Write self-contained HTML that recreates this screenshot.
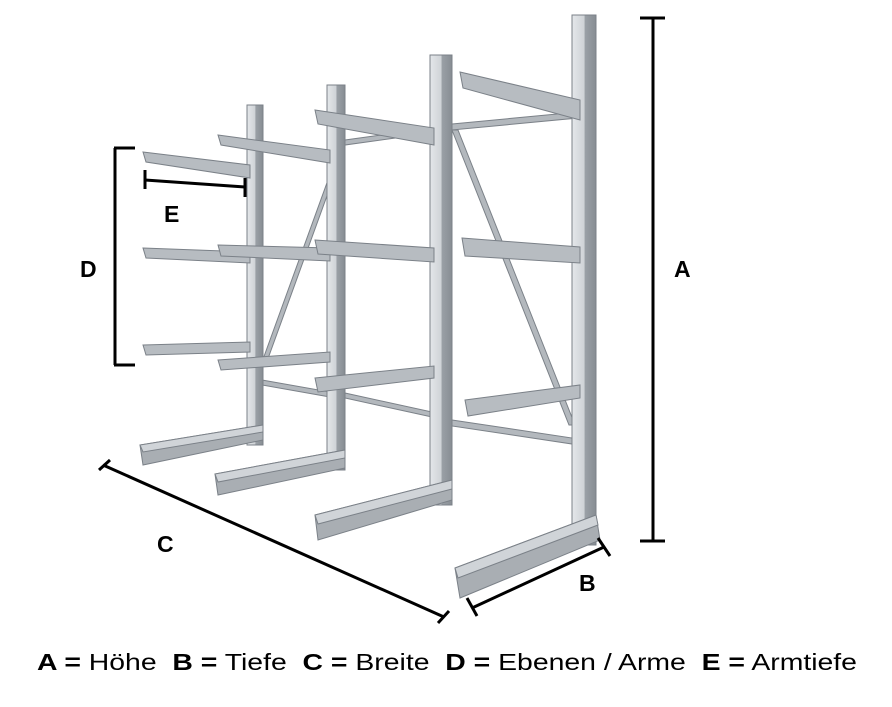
<!DOCTYPE html>
<html><head><meta charset="utf-8"><style>
html,body{margin:0;padding:0;background:#fff;}
svg{display:block}
</style></head><body>
<svg width="892" height="707" viewBox="0 0 892 707" xmlns="http://www.w3.org/2000/svg">
<defs>
<linearGradient id="col" x1="0" x2="1" y1="0" y2="0">
<stop offset="0" stop-color="#e4e7ea"/><stop offset="0.5" stop-color="#cfd3d7"/><stop offset="0.55" stop-color="#9aa0a6"/><stop offset="1" stop-color="#878d93"/>
</linearGradient>
</defs>
<g stroke="#7b8188" stroke-width="1">
<g fill="#b3b8bd">
<polygon points="262,362 328,180 332,182 266,364"/>
<polygon points="262,380 330,392 330,397 262,385"/>
<polygon points="345,140 432,128 432,133 345,145"/>
<polygon points="345,393 432,412 432,417 345,398"/>
<polygon points="452,124 578,112 578,118 452,130"/>
<polygon points="452,130 458,130 575,425 569,425"/>
<polygon points="452,420 572,438 572,444 452,426"/>
</g>
<rect x="247" y="105" width="16" height="340" fill="url(#col)"/>
<rect x="327" y="85" width="18" height="385" fill="url(#col)"/>
<rect x="430" y="55" width="22" height="450" fill="url(#col)"/>
<rect x="572" y="15" width="24" height="530" fill="url(#col)"/>
<g fill="#a9aeb3">
<polygon points="263,425 263,440 143,465 140,445"/>
<polygon points="345,450 345,468 218,495 215,474"/>
<polygon points="452,480 452,500 318,540 315,515"/>
<polygon points="596,515 600,540 460,598 455,568"/>
</g>
<g fill="#d0d4d8">
<polygon points="263,425 140,445 143,452 263,432"/>
<polygon points="345,450 215,474 218,482 345,458"/>
<polygon points="452,480 315,515 318,524 452,489"/>
<polygon points="596,515 455,568 458,578 598,525"/>
</g>
<g fill="#b7bcc1">
<polygon points="143,152 250,165 250,178 146,162"/>
<polygon points="143,248 250,252 250,263 146,258"/>
<polygon points="143,345 250,342 250,352 146,355"/>
<polygon points="218,135 330,150 330,163 221,145"/>
<polygon points="218,245 330,248 330,261 221,256"/>
<polygon points="218,360 330,352 330,362 221,370"/>
<polygon points="315,110 434,128 434,145 318,124"/>
<polygon points="315,240 434,248 434,262 318,254"/>
<polygon points="315,378 434,366 434,378 318,392"/>
<polygon points="460,72 580,100 580,120 463,88"/>
<polygon points="462,238 580,247 580,263 465,256"/>
<polygon points="465,400 580,385 580,398 468,416"/>
</g>
</g>
<g stroke="#000" stroke-width="3" fill="none">
<line x1="653" y1="18" x2="653" y2="541"/>
<line x1="640" y1="18" x2="665" y2="18"/>
<line x1="640" y1="541" x2="665" y2="541"/>
<line x1="472" y1="608" x2="604" y2="547"/>
<line x1="467" y1="598" x2="477" y2="616"/>
<line x1="598" y1="538" x2="610" y2="556"/>
<line x1="103" y1="465" x2="444" y2="617"/>
<line x1="99" y1="470" x2="110" y2="460"/>
<line x1="438" y1="623" x2="449" y2="611"/>
<line x1="115" y1="148" x2="115" y2="365"/>
<line x1="114" y1="148" x2="135" y2="148"/>
<line x1="114" y1="365" x2="135" y2="365"/>
<line x1="145" y1="180" x2="245" y2="187"/>
<line x1="145" y1="170" x2="145" y2="189"/>
<line x1="245" y1="178" x2="245" y2="197"/>
</g>
<g font-family="Liberation Sans, sans-serif" font-weight="bold" font-size="23" fill="#000">
<text x="674" y="277">A</text>
<text x="579" y="591">B</text>
<text x="157" y="552">C</text>
<text x="80" y="277">D</text>
<text x="164" y="222">E</text>
</g>
<text x="37" y="670" xml:space="preserve" font-family="Liberation Sans, sans-serif" font-size="23" fill="#000" textLength="820" lengthAdjust="spacingAndGlyphs"><tspan font-weight="bold">A =</tspan> Höhe  <tspan font-weight="bold">B =</tspan> Tiefe  <tspan font-weight="bold">C =</tspan> Breite  <tspan font-weight="bold">D =</tspan> Ebenen / Arme  <tspan font-weight="bold">E =</tspan> Armtiefe</text>
</svg>
</body></html>
